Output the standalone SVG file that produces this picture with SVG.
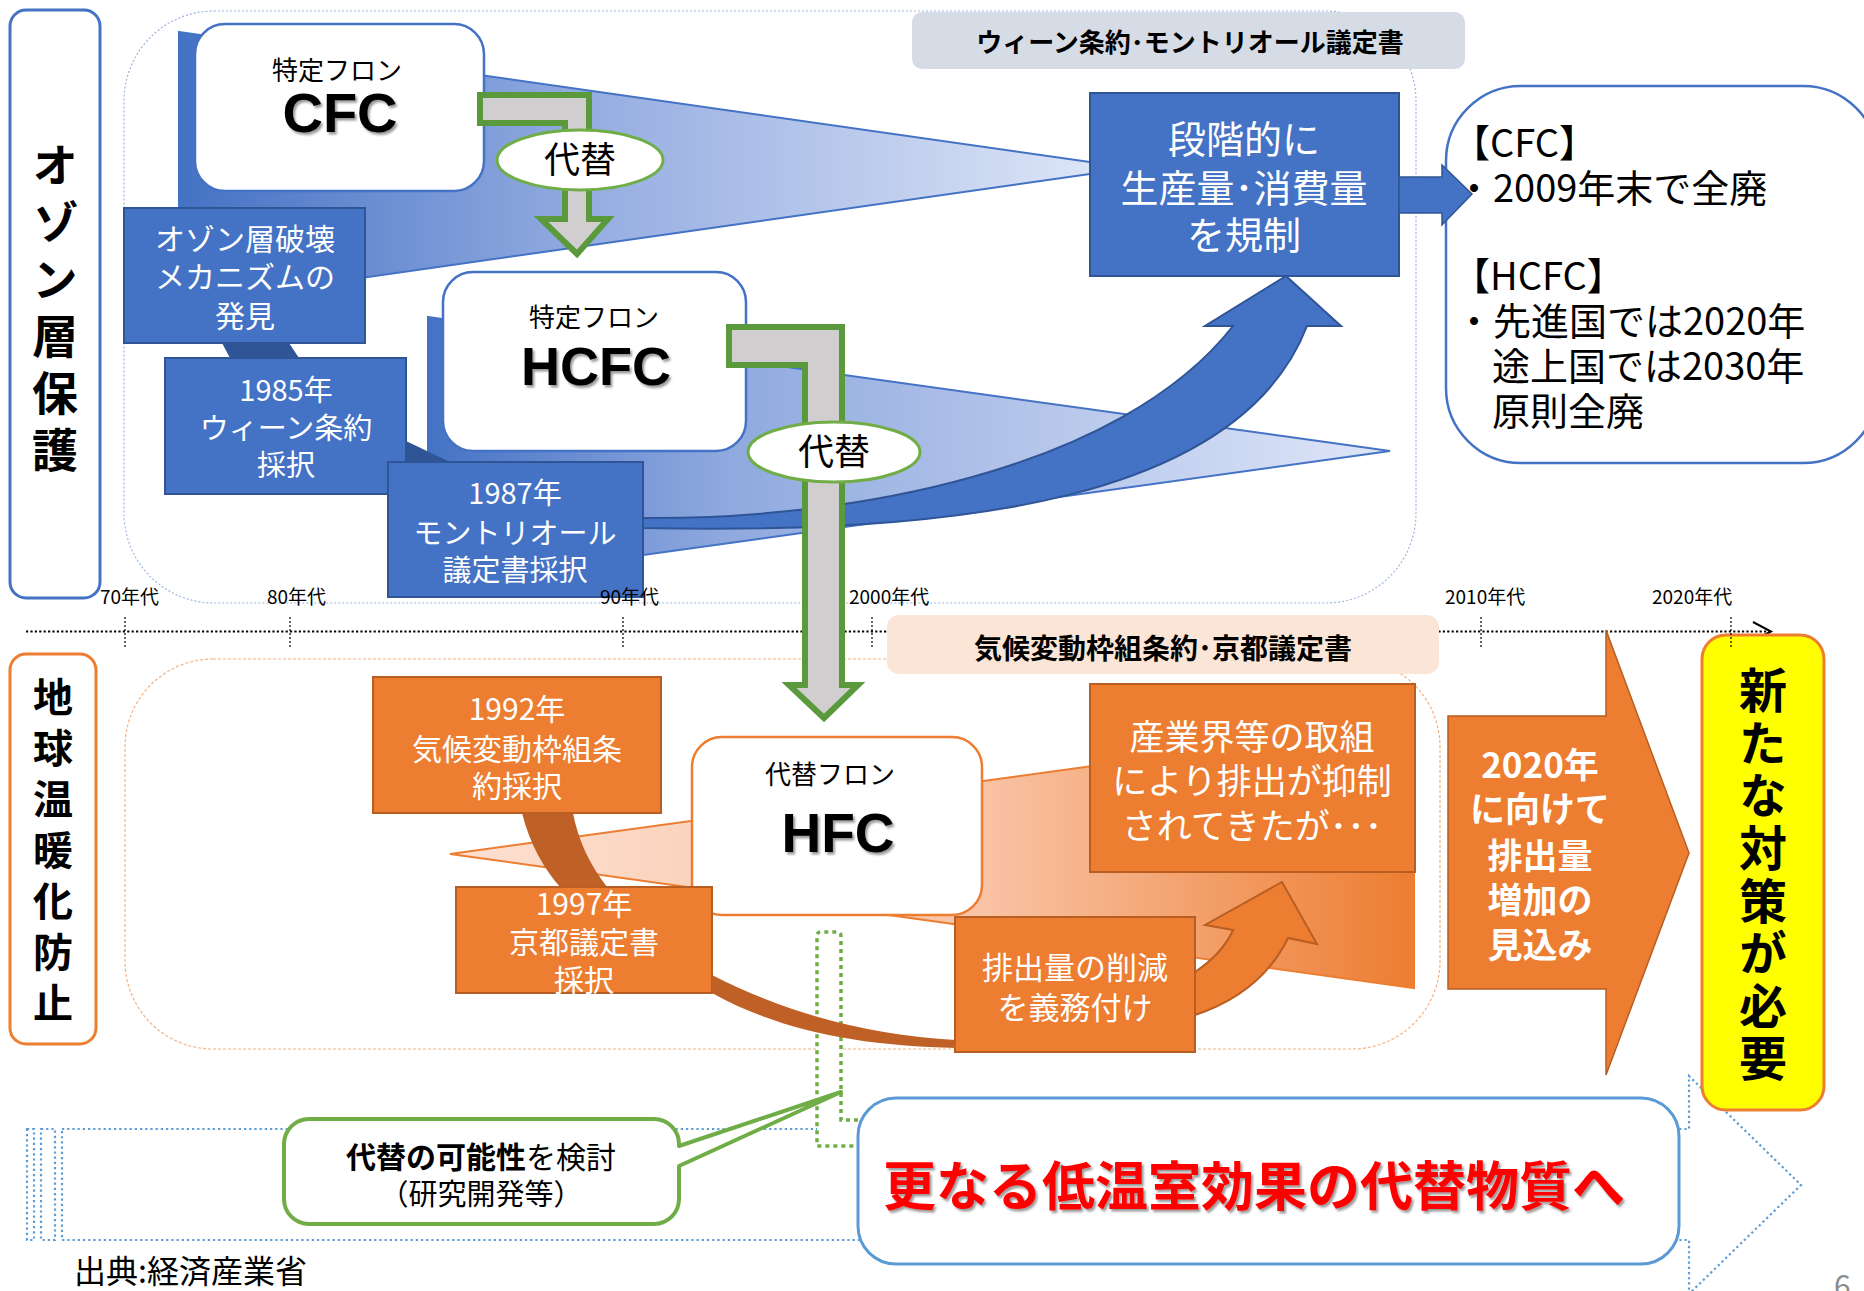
<svg xmlns="http://www.w3.org/2000/svg" width="1864" height="1291" viewBox="0 0 1864 1291">
<style>
text{font-family:"Noto Sans CJK JP","Noto Sans CJK SC",sans-serif}
.c{text-anchor:middle}
.w{fill:#fff}
.k{fill:#000}
.b{font-weight:bold}
.v{writing-mode:vertical-rl;text-orientation:upright}
.bbox{fill:#4472C4;stroke:#2F5597;stroke-width:2}
.obox{fill:#ED7D31;stroke:#B85E22;stroke-width:2}
.lat{font-family:"Liberation Sans",Arial,sans-serif;font-weight:bold}
.tl{font-size:19px;fill:#000}
.tick{stroke:#000;stroke-width:1.2;stroke-dasharray:2 2}
.bent{fill:#D0CECE;stroke:#5B9A3C;stroke-width:6;stroke-linejoin:miter}
.ell{fill:#fff;stroke:#70AD47;stroke-width:3}
</style>
<defs>
<linearGradient id="gb1" gradientUnits="userSpaceOnUse" x1="179" y1="0" x2="1132" y2="0">
<stop offset="0" stop-color="#4472C4"/><stop offset="0.45" stop-color="#98AFE2"/><stop offset="1" stop-color="#E2E9F8"/>
</linearGradient>
<linearGradient id="gb2" gradientUnits="userSpaceOnUse" x1="428" y1="0" x2="1390" y2="0">
<stop offset="0" stop-color="#4472C4"/><stop offset="0.3" stop-color="#8EA8DE"/><stop offset="1" stop-color="#DFE6F8"/>
</linearGradient>
<linearGradient id="go" gradientUnits="userSpaceOnUse" x1="450" y1="0" x2="1414" y2="0">
<stop offset="0" stop-color="#FDE0D2"/><stop offset="0.55" stop-color="#F9C4A6"/><stop offset="1" stop-color="#ED7D31"/>
</linearGradient>
<filter id="ts" x="-10%" y="-20%" width="130%" height="150%">
<feDropShadow dx="2" dy="2.5" stdDeviation="1.3" flood-color="#000" flood-opacity="0.4"/>
</filter>
</defs>
<rect width="1864" height="1291" fill="#fff"/>

<!-- regions -->
<g id="region-upper">
<rect x="124" y="11" width="1292" height="592" rx="90" fill="none" stroke="#9DB5E0" stroke-width="1.2" stroke-dasharray="2 2"/>
</g>
<g id="region-lower">
<rect x="125" y="659" width="1315" height="390" rx="88" fill="none" stroke="#F4B183" stroke-width="1.2" stroke-dasharray="3 2"/>
</g>

<!-- striped dotted arrow -->
<g id="future-arrow" fill="#fff" stroke="#5B9BD5" stroke-width="2.2" stroke-dasharray="2.2 3">
<rect x="27" y="1129" width="7" height="111"/>
<rect x="41" y="1129" width="14" height="111"/>
<path d="M62,1129 H1689 V1076 L1801,1185 L1689,1294 V1240 H62 Z"/>
</g>

<!-- timeline line -->
<g id="timeline-line" stroke="#000" fill="none">
<line x1="26" y1="631.5" x2="1770" y2="631.5" stroke-width="2.2" stroke-dasharray="2.2 2.2"/>
<polyline points="1753,622 1771,631.5 1753,641" stroke-width="2"/>
</g>

<!-- wedges -->
<g id="wedge-cfc"><polygon points="179,32 1132,168 179,304" fill="url(#gb1)" stroke="#4472C4" stroke-width="2"/></g>
<g id="wedge-hcfc"><polygon points="428,317 1390,451 428,585" fill="url(#gb2)" stroke="#4472C4" stroke-width="2"/></g>
<g id="wedge-hfc"><polygon points="450,854 1414,722 1414,988" fill="url(#go)" stroke="#ED7D31" stroke-width="2"/></g>

<!-- left labels -->
<g id="label-ozone">
<rect x="10" y="10" width="90" height="588" rx="16" fill="#fff" stroke="#4472C4" stroke-width="3"/>
<text x="55" y="142" class="k b v" font-size="46" letter-spacing="11">オゾン層保護</text>
</g>
<g id="label-warming">
<rect x="10" y="654" width="86" height="390" rx="16" fill="#fff" stroke="#ED7D31" stroke-width="3"/>
<text x="53" y="677" class="k b v" font-size="40" letter-spacing="11">地球温暖化防止</text>
</g>

<!-- section labels -->
<g id="label-vienna">
<rect x="912" y="12" width="553" height="57" rx="10" fill="#D6DCE5"/>
<text x="1190" y="52" class="c k b" font-size="26">ウィーン条約･モントリオール議定書</text>
</g>
<g id="label-kyoto">
<rect x="887" y="615" width="552" height="59" rx="12" fill="#FBE5D6"/>
<text x="1163" y="659" class="c k b" font-size="28">気候変動枠組条約･京都議定書</text>
</g>

<!-- substance nodes -->
<g id="node-cfc">
<rect x="195" y="24" width="289" height="167" rx="30" fill="#fff" stroke="#4472C4" stroke-width="2.5"/>
<text x="337" y="80" class="c k" font-size="26">特定フロン</text>
<text x="340" y="132" class="c k lat" font-size="56" filter="url(#ts)">CFC</text>
</g>
<g id="node-hcfc">
<rect x="443" y="272" width="303" height="179" rx="30" fill="#fff" stroke="#4472C4" stroke-width="2.5"/>
<text x="594" y="327" class="c k" font-size="26">特定フロン</text>
<text x="596" y="385" class="c k lat" font-size="54" filter="url(#ts)">HCFC</text>
</g>
<g id="node-hfc">
<rect x="692" y="737" width="290" height="178" rx="30" fill="#fff" stroke="#ED7D31" stroke-width="2.5"/>
<text x="830" y="784" class="c k" font-size="26">代替フロン</text>
<text x="838" y="852" class="c k lat" font-size="55" filter="url(#ts)">HFC</text>
</g>

<!-- blue event boxes -->
<g id="node-discovery">
<rect x="124" y="208" width="241" height="135" class="bbox"/>
<text class="c w" font-size="30"><tspan x="245" y="250">オゾン層破壊</tspan><tspan x="245" y="288">メカニズムの</tspan><tspan x="245" y="327">発見</tspan></text>
</g>
<g id="node-vienna1985">
<rect x="165" y="358" width="241" height="136" class="bbox"/>
<text class="c w" font-size="29"><tspan x="286" y="401">1985年</tspan><tspan x="286" y="439">ウィーン条約</tspan><tspan x="286" y="476">採択</tspan></text>
</g>
<g id="node-montreal1987">
<rect x="388" y="462" width="255" height="135" class="bbox"/>
<text class="c w" font-size="29"><tspan x="515" y="504">1987年</tspan><tspan x="515" y="544">モントリオール</tspan><tspan x="515" y="581">議定書採択</tspan></text>
</g>
<g id="node-regulate">
<rect x="1090" y="93" width="309" height="183" class="bbox"/>
<text class="c w" font-size="38"><tspan x="1244" y="153">段階的に</tspan><tspan x="1244" y="202">生産量･消費量</tspan><tspan x="1244" y="249">を規制</tspan></text>
</g>

<!-- info box -->
<g id="node-phaseout">
<rect x="1446" y="86" width="432" height="377" rx="75" fill="#fff" stroke="#4472C4" stroke-width="2.5"/>
<text class="k" font-size="38">
<tspan x="1452" y="157">【CFC】</tspan>
<tspan x="1455" y="202">・2009年末で全廃</tspan>
<tspan x="1452" y="290">【HCFC】</tspan>
<tspan x="1455" y="335">・先進国では2020年</tspan>
<tspan x="1492" y="380">途上国では2030年</tspan>
<tspan x="1492" y="425">原則全廃</tspan>
</text>
</g>

<!-- orange event boxes -->
<g id="node-unfccc1992">
<rect x="373" y="677" width="288" height="136" class="obox"/>
<text class="c w" font-size="30"><tspan x="517" y="720">1992年</tspan><tspan x="517" y="760">気候変動枠組条</tspan><tspan x="517" y="797">約採択</tspan></text>
</g>
<g id="node-kyoto1997">
<rect x="456" y="887" width="256" height="106" class="obox"/>
<text class="c w" font-size="30"><tspan x="584" y="915">1997年</tspan><tspan x="584" y="953">京都議定書</tspan><tspan x="584" y="991">採択</tspan></text>
</g>
<g id="node-industry">
<rect x="1090" y="684" width="325" height="188" class="obox"/>
<text class="c w" font-size="35"><tspan x="1252" y="750">産業界等の取組</tspan><tspan x="1252" y="794">により排出が抑制</tspan><tspan x="1252" y="839">されてきたが･･･</tspan></text>
</g>
<g id="node-obligation">
<rect x="955" y="917" width="240" height="135" class="obox"/>
<text class="c w" font-size="31"><tspan x="1075" y="979">排出量の削減</tspan><tspan x="1075" y="1019">を義務付け</tspan></text>
</g>

<!-- big orange arrow -->
<g id="node-increase">
<polygon points="1448,716 1606,716 1606,630 1689,853 1606,1075 1606,989 1448,989" fill="#ED7D31" stroke="#B85E22" stroke-width="1.5"/>
<text class="c w b" font-size="35"><tspan x="1540" y="778">2020年</tspan><tspan x="1540" y="822">に向けて</tspan><tspan x="1540" y="869">排出量</tspan><tspan x="1540" y="913">増加の</tspan><tspan x="1540" y="958">見込み</tspan></text>
</g>

<!-- yellow box -->
<g id="node-newmeasures">
<rect x="1702" y="635" width="122" height="475" rx="24" fill="#FFFF00" stroke="#ED7D31" stroke-width="3"/>
<text x="1763" y="666" class="k b v" font-size="48" letter-spacing="4.6">新たな対策が必要</text>
</g>

<!-- green dotted research shape -->
<g id="node-research-track">
<path d="M858,1120 H841 V936 Q841,932 837,932 H821 Q817,932 817,936 V1146 H858" fill="#fff" stroke="#70AD47" stroke-width="3.5" stroke-dasharray="4 4"/>
</g>

<!-- white target box -->
<g id="node-lowgwp">
<rect x="858" y="1098" width="821" height="166" rx="38" fill="#fff" stroke="#5B9BD5" stroke-width="3"/>
<text x="1254" y="1206" class="c b" font-size="53" fill="#FF0000" filter="url(#ts)">更なる低温室効果の代替物質へ</text>
</g>

<!-- green callout -->
<g id="node-study">
<path d="M309,1119 H654 A25,25 0 0 1 679,1144 V1146 L841,1092 L679,1166 V1199 A25,25 0 0 1 654,1224 H309 A25,25 0 0 1 284,1199 V1144 A25,25 0 0 1 309,1119 Z" fill="#fff" stroke="#70AD47" stroke-width="4" stroke-linejoin="round"/>
<text class="c k"><tspan x="481" y="1168" font-size="30"><tspan font-weight="bold">代替の可能性</tspan>を検討</tspan><tspan x="481" y="1205" font-size="29">（研究開発等）</tspan></text>
</g>

<!-- timeline ticks and labels -->
<g id="timeline-labels">
<line x1="125" y1="617" x2="125" y2="647" class="tick"/>
<line x1="290" y1="617" x2="290" y2="647" class="tick"/>
<line x1="623" y1="617" x2="623" y2="647" class="tick"/>
<line x1="872" y1="617" x2="872" y2="647" class="tick"/>
<line x1="1481" y1="617" x2="1481" y2="647" class="tick"/>
<line x1="1731" y1="617" x2="1731" y2="647" class="tick"/>
<text x="100" y="604" class="tl">70年代</text>
<text x="267" y="604" class="tl">80年代</text>
<text x="600" y="604" class="tl">90年代</text>
<text x="849" y="604" class="tl">2000年代</text>
<text x="1445" y="604" class="tl">2010年代</text>
<text x="1652" y="604" class="tl">2020年代</text>
</g>

<g id="source"><text x="74" y="1283" class="k" font-size="32">出典:経済産業省</text></g>
<g id="page"><text x="1834" y="1297" font-size="30" fill="#8C8C8C" font-family="Liberation Sans, sans-serif">6</text></g>

<!-- connectors -->
<g id="connectors">
<polygon points="222,343 289,343 299,358 230,358" fill="#2F5597"/>
<polygon points="406,441 450,462 406,462" fill="#2F5597"/>
<path d="M643,518 C850,520 1120,470 1233,326 L1205,326 L1286,276 L1341,326 L1307,326 C1240,500 960,535 643,528 Z" fill="#4472C4" stroke="#2F5597" stroke-width="2"/>
<path d="M1399,177 H1442 V165 L1472,194 L1442,225 V213 H1399 Z" fill="#4472C4" stroke="#2F5597" stroke-width="1.5"/>
<path d="M522,813 C530,845 545,870 560,887 L607,887 C590,865 578,840 573,813 Z" fill="#BF6126"/>
<path d="M712,975 C790,1015 870,1035 956,1040 L956,1048 C860,1046 780,1031 712,993 Z" fill="#BF6126"/>
<path d="M1195,972 C1210,962 1225,948 1233,930 L1205,925 L1282,882 L1317,944 L1288,938 C1270,975 1240,1000 1195,1015 Z" fill="#ED7D31" stroke="#B85E22" stroke-width="2"/>
<path d="M480,95 H589 V219 H608 L577,254 L541,219 H565 V123 H480 Z" class="bent"/>
<path d="M729,327 H842 V685 H858 L824,718 L789,685 H805 V365 H729 Z" class="bent"/>
<ellipse cx="580" cy="160" rx="83" ry="30" class="ell"/>
<text x="580" y="173" class="c k" font-size="36">代替</text>
<ellipse cx="834" cy="452" rx="86" ry="30" class="ell"/>
<text x="834" y="465" class="c k" font-size="36">代替</text>
</g>
</svg>
